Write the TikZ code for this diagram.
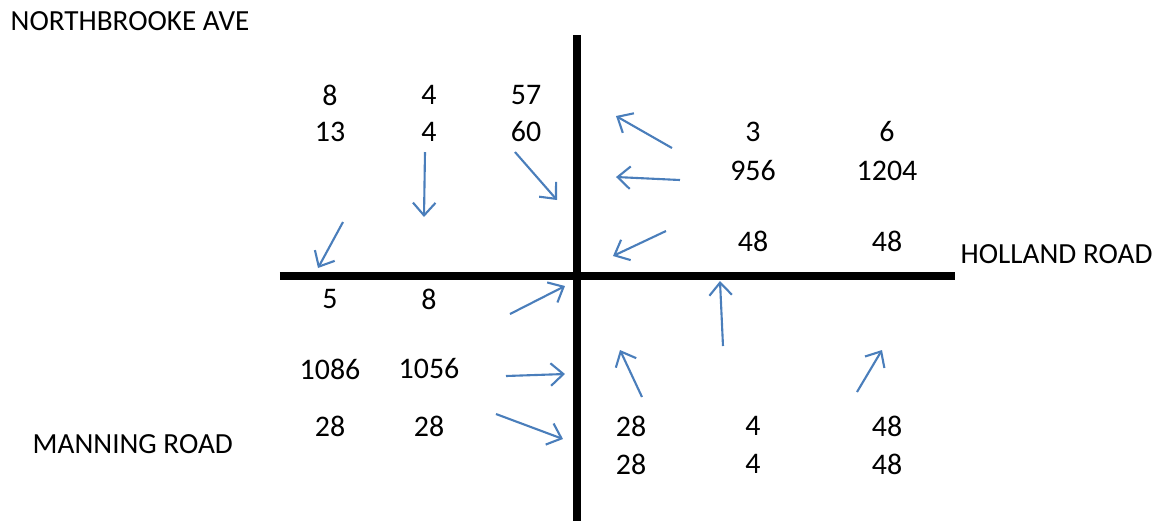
\documentclass[tikz,border=0pt]{standalone}
\usepackage{fontspec}
\setmainfont{Carlito}
\usetikzlibrary{arrows.meta}

\begin{document}
\begin{tikzpicture}[x=0.01cm, y=-0.01cm,
    road/.style={line width=2.3pt},
    flow/.style={draw=flowblue, line width=0.6pt, -{Straight Barb[length=3.6pt, width=6.4pt]}},
    count/.style={font=\fontsize{8.5}{10}\selectfont, inner sep=0pt},
    street/.style={font=\fontsize{8.3}{10}\selectfont, inner sep=0pt}]
    \definecolor{flowblue}{RGB}{74,126,187}
    \useasboundingbox (0,0) rectangle (1162,523);

    % the two roads
    \coordinate (N) at (577,35);
    \coordinate (S) at (577,521);
    \coordinate (W) at (280,276);
    \coordinate (E) at (955,276);
    \draw[road] (N) -- (S);
    \draw[road] (W) -- (E);

    % road names
    \node[street, anchor=west] (northbrooke) at (10,21) {NORTHBROOKE AVE};
    \node[street, anchor=west] (holland) at (960,254) {HOLLAND ROAD};
    \node[street, anchor=west] (manning) at (32,444) {MANNING ROAD};

    % counts, north-west corner
    \node[count] (nw11) at (330,95) {8};
    \node[count] (nw12) at (429,95) {4};
    \node[count] (nw13) at (526,95) {57};
    \node[count] (nw21) at (330,132) {13};
    \node[count] (nw22) at (429,132) {4};
    \node[count] (nw23) at (526,132) {60};

    % counts, north-east corner
    \node[count] (ne11) at (753,132) {3};
    \node[count] (ne12) at (887,132) {6};
    \node[count] (ne21) at (753,171) {956};
    \node[count] (ne22) at (887,171) {1204};
    \node[count] (ne31) at (753,241) {48};
    \node[count] (ne32) at (887,241) {48};

    % counts, south-west corner
    \node[count] (sw11) at (330,299) {5};
    \node[count] (sw12) at (429,299) {8};
    \node[count] (sw21) at (330,369) {1086};
    \node[count] (sw22) at (429,369) {1056};
    \node[count] (sw31) at (330,426) {28};
    \node[count] (sw32) at (429,426) {28};

    % counts, south-east corner
    \node[count] (se11) at (631,426) {28};
    \node[count] (se12) at (753,426) {4};
    \node[count] (se13) at (887,426) {48};
    \node[count] (se21) at (631,464) {28};
    \node[count] (se22) at (753,464) {4};
    \node[count] (se23) at (887,464) {48};

    % turning movements
    \draw[flow] (343,222) -- (318,268);
    \draw[flow] (425,152) -- (424,217);
    \draw[flow] (515,152) -- (557,200);

    \draw[flow] (672,148) -- (616,116);
    \draw[flow] (680,180) -- (616,177);
    \draw[flow] (666,231) -- (613,256);

    \draw[flow] (510,314) -- (565,286);
    \draw[flow] (506,376) -- (565,374);
    \draw[flow] (496,414) -- (563,439);

    \draw[flow] (642,397) -- (620,350);
    \draw[flow] (723,346) -- (720,281);
    \draw[flow] (857,392) -- (882,350);

\end{tikzpicture}
\end{document}
